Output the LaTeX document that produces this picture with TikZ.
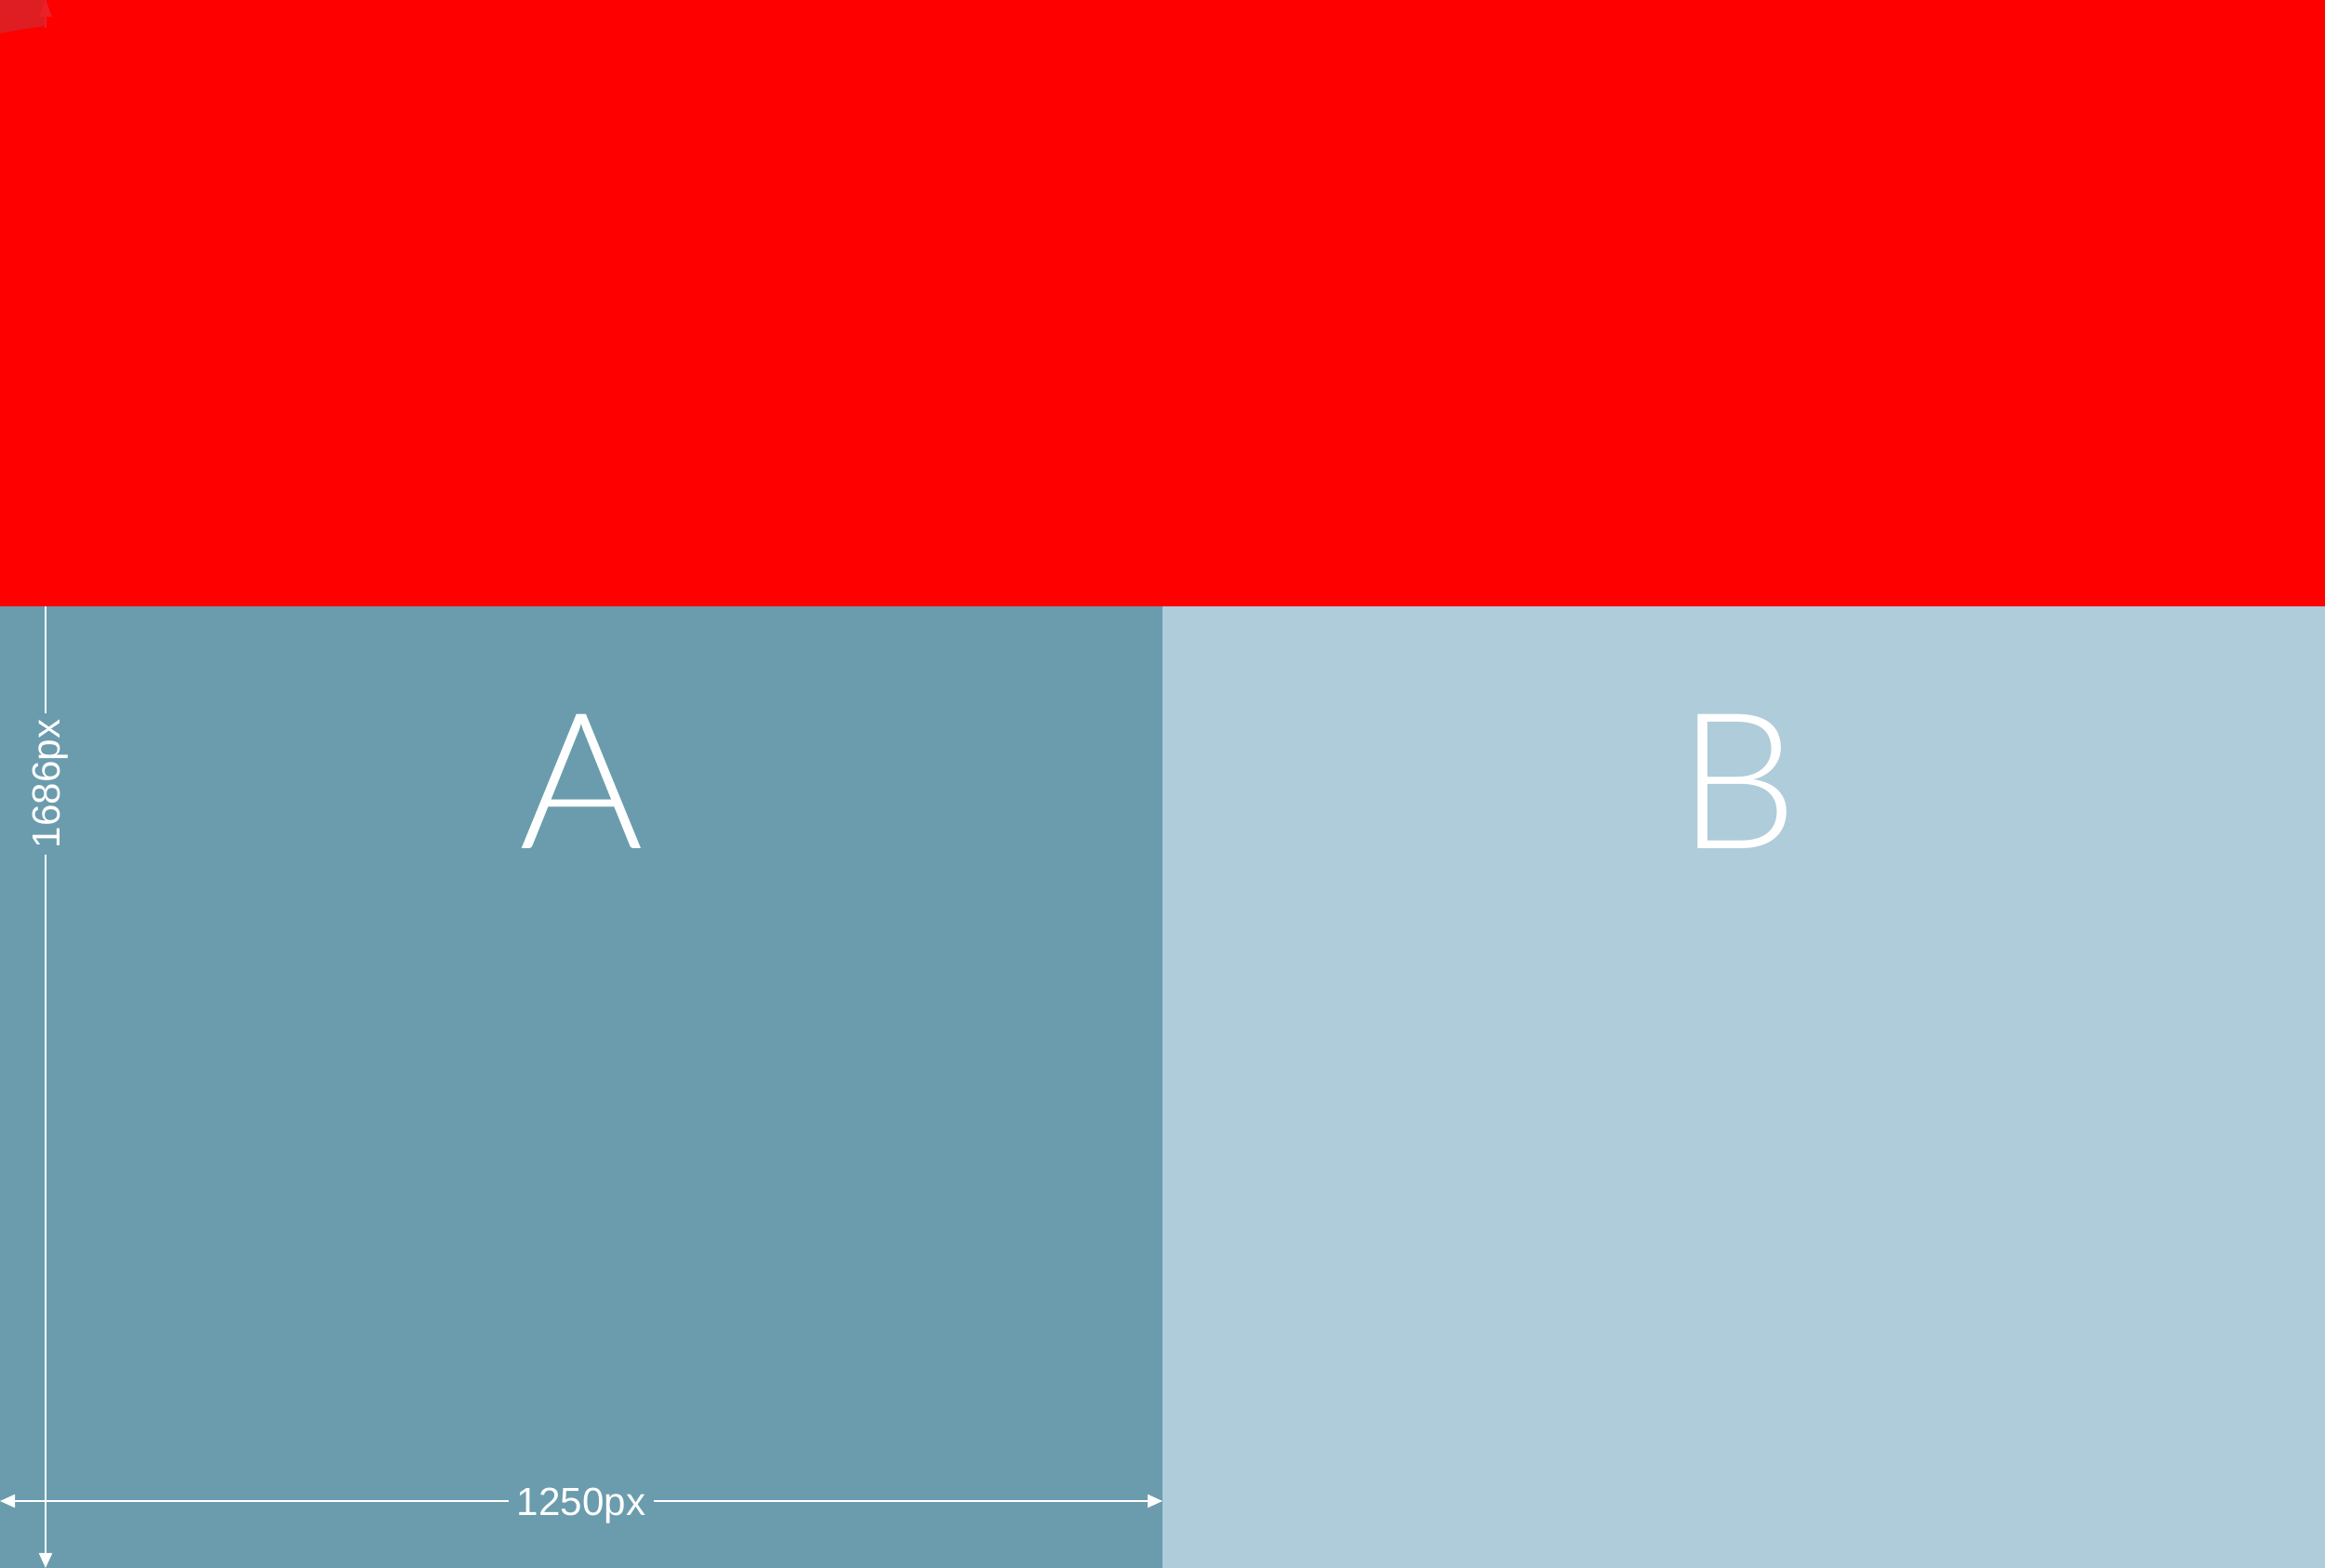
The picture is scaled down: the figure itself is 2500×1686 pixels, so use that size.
\documentclass[tikz,border=0pt]{standalone}
\usepackage{fontspec}
\setmainfont{Liberation Sans}
\newfontfamily\thinfont{Lato Light}
\usetikzlibrary{arrows.meta,positioning}
\definecolor{bandred}{HTML}{FF0000}
\definecolor{panelA}{HTML}{6A9CAD}
\definecolor{panelB}{HTML}{AFCCDA}
\definecolor{cornerred}{RGB}{214,38,44}
\definecolor{tipred}{RGB}{236,32,40}

\begin{document}
\begin{tikzpicture}[
      x=0.01cm, y=-0.01cm,
      panel/.style = {draw=none, inner sep=0pt, outer sep=0pt, anchor=north west},
      letter/.style = {text=white, font=\thinfont\fontsize{58}{58}\selectfont, anchor=base},
      dim/.style = {white, line width=0.6pt, {Triangle[length=1.6mm,width=1.4mm]}-{Triangle[length=1.6mm,width=1.4mm]}},
      dimlabel/.style = {fill=panelA, text=white, inner sep=0pt,
                         minimum width=15.5mm, minimum height=4mm,
                         font=\fontsize{12}{12}\selectfont}
    ]
    \useasboundingbox (0,0) rectangle (2500,1686);

    \node[panel, fill=panelA, minimum width=12.5cm, minimum height=10.34cm] (pa) at (0,652) {};
    \node[panel, fill=panelB, minimum width=12.5cm, minimum height=10.34cm] (pb) at (1250,652) {};

    \node[letter] (la) at (625,913)  {A};
    \node[letter] (lb) at (1869,913) {B};

    % dimension arrows
    \coordinate (wl) at (0,1614);
    \coordinate (wr) at (1250,1614);
    \coordinate (ht) at (49,0);
    \coordinate (hb) at (49,1686);
    \draw[dim] (wl) -- (wr) node[dimlabel, midway, yshift=-0.5mm] (wlab) {1250px};
    \draw[dim] (ht) -- (hb) node[dimlabel, pos=0.5, xshift=0.5mm, rotate=90, minimum width=15.2mm] (hlab) {1686px};

    % top band
    \node[panel, fill=bandred, minimum width=25cm, minimum height=6.52cm] (band) at (0,0) {};
    \fill[cornerred, opacity=0.8] (0,0) -- (50,0) -- (50,28) .. controls (30,30) and (10,34) .. (0,36) -- cycle;
    \fill[tipred] (49,0) -- (56,18) -- (42,18) -- cycle;
    \fill[tipred] (48,18) rectangle (50,30);
  \end{tikzpicture}
\end{document}
